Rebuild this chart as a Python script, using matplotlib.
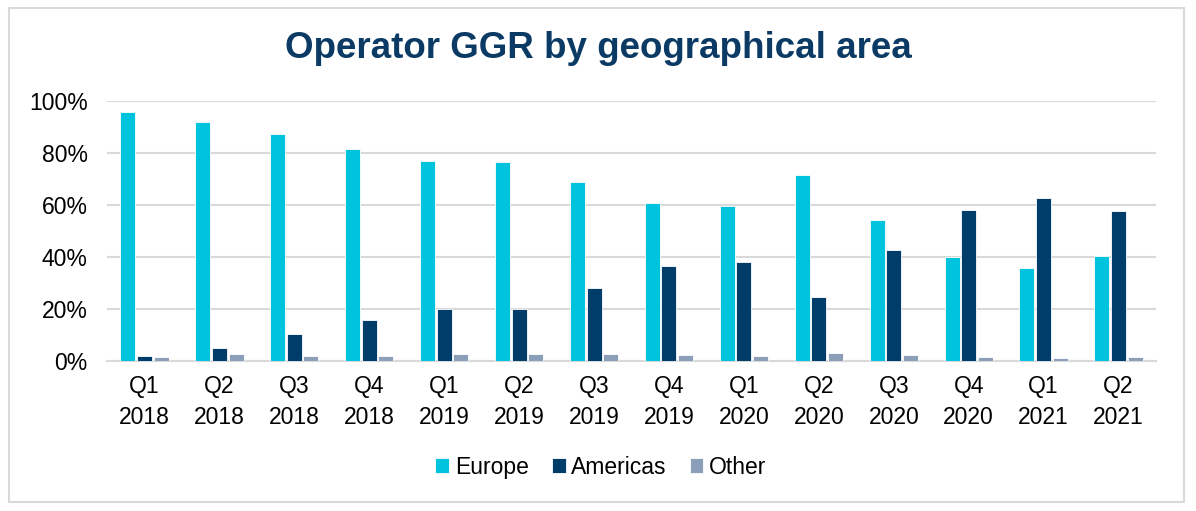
import numpy as np
import matplotlib
matplotlib.use("Agg")
import matplotlib.pyplot as plt
from matplotlib.patches import Rectangle
from matplotlib.ticker import PercentFormatter

plt.rcParams["font.family"] = ["Liberation Sans", "DejaVu Sans"]

# ── Data ─────────────────────────────────────────────────────────────────────
quarters = ["Q1\n2018", "Q2\n2018", "Q3\n2018", "Q4\n2018",
            "Q1\n2019", "Q2\n2019", "Q3\n2019", "Q4\n2019",
            "Q1\n2020", "Q2\n2020", "Q3\n2020", "Q4\n2020",
            "Q1\n2021", "Q2\n2021"]
europe   = [95.8, 91.9, 87.3, 81.7, 76.8, 76.6, 68.8, 60.8, 59.7, 71.6, 54.3, 39.9, 35.6, 40.3]
americas = [2.0, 5.0, 10.2, 15.7, 20.0, 20.0, 27.9, 36.4, 37.9, 24.7, 42.8, 58.0, 62.6, 57.7]
other    = [1.5, 2.7, 1.9, 2.0, 2.8, 2.8, 2.7, 2.2, 1.9, 3.1, 2.2, 1.4, 1.0, 1.4]

series = [("Europe", europe, "#00C3DD"),
          ("Americas", americas, "#003D6B"),
          ("Other", other, "#8B9FB9")]

# ── Figure ───────────────────────────────────────────────────────────────────
fig = plt.figure(figsize=(11.96, 5.11), dpi=100)
ax = fig.add_axes([107 / 1196, 1 - 361 / 511, (1156 - 107) / 1196, 260 / 511])

x = np.arange(len(quarters))
pitch = 0.222
for i, (name, vals, color) in enumerate(series):
    ax.bar(x + (i - 1) * pitch, vals, width=0.2, color=color,
           edgecolor="white", linewidth=0.6, label=name, zorder=3)

ax.set_xlim(-0.5, len(quarters) - 0.5)
ax.set_ylim(0, 100)
ax.set_yticks(np.arange(0, 101, 20))
ax.yaxis.set_major_formatter(PercentFormatter(decimals=0))
ax.set_xticks(x)
ax.set_xticklabels(quarters, linespacing=1.45)
ax.tick_params(axis="both", length=0, labelsize=16.5, colors="black")
ax.tick_params(axis="x", pad=10)
ax.tick_params(axis="y", pad=14)

ax.grid(axis="y", color="#D9D9D9", linewidth=1.5, zorder=0)
for side in ["top", "right", "left"]:
    ax.spines[side].set_visible(False)
ax.spines["bottom"].set_color("#D9D9D9")
ax.spines["bottom"].set_linewidth(1.5)

fig.text(598 / 1196, 1 - 49 / 511, "Operator GGR by geographical area",
         ha="center", va="center", fontsize=26.5, fontweight="bold", color="#0B3A64")

fig.legend(loc="center", bbox_to_anchor=(601 / 1196, 1 - 467 / 511), ncol=3,
           frameon=False, fontsize=16.5, handlelength=0.6, handleheight=0.6,
           handletextpad=0.25, columnspacing=1.0)

fig.patches.append(Rectangle((9 / 1196, 1 - 502 / 511), 1175 / 1196, 494 / 511,
                             transform=fig.transFigure, fill=False,
                             edgecolor="#D9D9D9", linewidth=1.5))

fig.savefig("out.png", dpi=100)
